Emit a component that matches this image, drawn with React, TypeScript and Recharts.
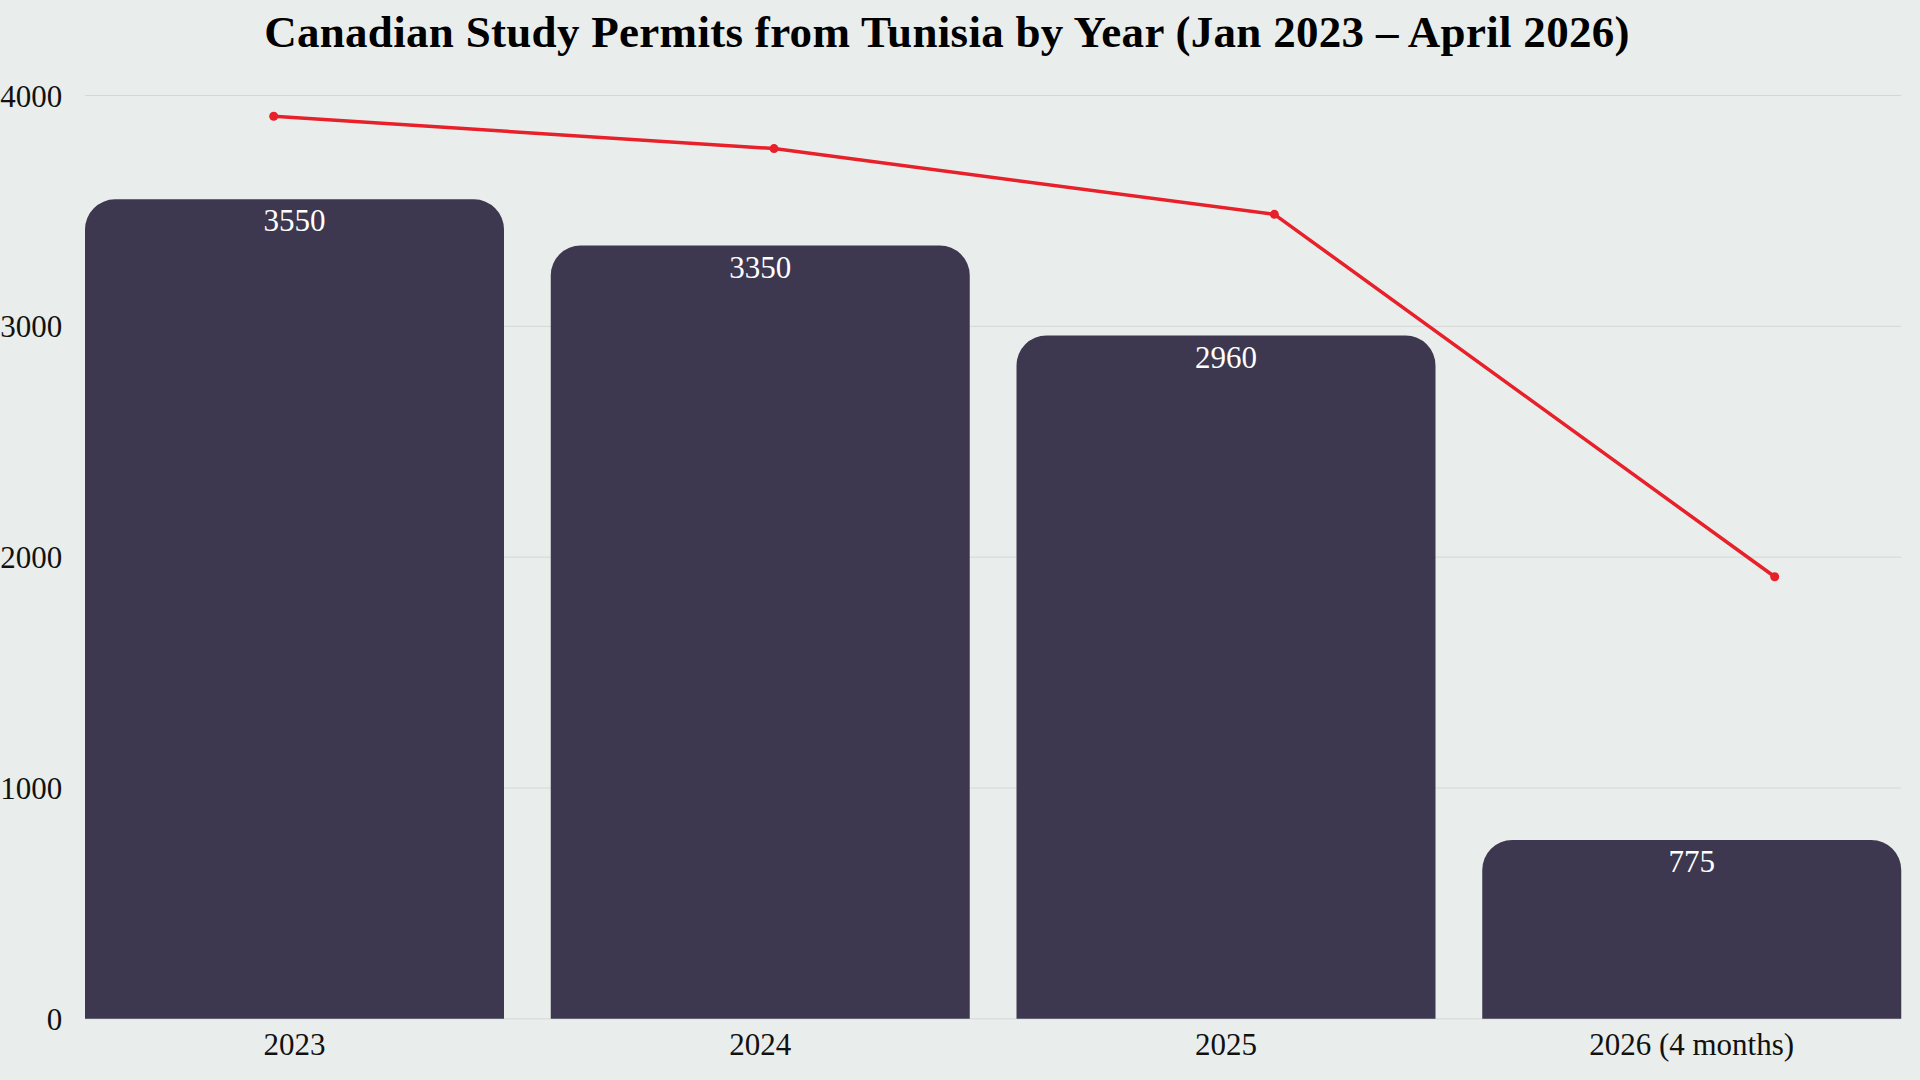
import React from 'react';
import { ComposedChart, Bar, Line, XAxis, YAxis, CartesianGrid, LabelList } from 'recharts';

const years = ['2023', '2024', '2025', '2026 (4 months)'];
const permits = [3550, 3350, 2960, 775];
const trend = [3910, 3770, 3485, 1915];
const yTicks = [0, 1000, 2000, 3000, 4000];
const title = 'Canadian Study Permits from Tunisia by Year (Jan 2023 \u2013 April 2026)';

const data = years.map((year, i) => ({ year, permits: permits[i], trend: trend[i] }));

const FONT = '"Liberation Serif", "DejaVu Serif", serif';
const BG = '#e9eeec';

if (typeof document !== 'undefined') {
  document.body.style.margin = '0';
  document.body.style.background = BG;
  document.documentElement.style.background = BG;
}

export default function App() {
  return (
    <div style={{ position: 'relative', width: 1920, height: 1080, background: BG, overflow: 'hidden' }}>
      <ComposedChart
        width={1920}
        height={1080}
        data={data}
        margin={{ top: 95.5, right: 19, bottom: 0, left: 0 }}
        barCategoryGap={23.5}
      >
        <CartesianGrid xAxisId="bar" vertical={false} stroke="#d3d8d6" strokeWidth={1} />
        <XAxis
          xAxisId="bar"
          dataKey="year"
          height={61.2}
          padding={{ left: -23.5, right: -23.5 }}
          tickLine={false}
          axisLine={false}
          tickSize={6}
          tickMargin={8.5}
          tick={{ fill: '#111', fontSize: 31, fontFamily: FONT }}
        />
        <XAxis xAxisId="line" dataKey="year" scale="point" padding={{ left: 188.7, right: 126.3 }} hide />
        <YAxis
          width={85}
          domain={[0, 4000]}
          ticks={yTicks}
          tickLine={false}
          axisLine={false}
          tickSize={6}
          tickMargin={16.7}
          tick={{ fill: '#111', fontSize: 31, fontFamily: FONT }}
        />
        <Bar xAxisId="bar" dataKey="permits" fill="#3d3850" radius={[30, 30, 0, 0]} isAnimationActive={false}>
          <LabelList dataKey="permits" position="insideTop" offset={10} fill="#ffffff" fontSize={31} fontFamily={FONT} />
        </Bar>
        <Line
          xAxisId="line"
          dataKey="trend"
          type="linear"
          stroke="#e8202a"
          strokeWidth={3.5}
          dot={{ r: 4.5, fill: '#e8202a', stroke: 'none' }}
          isAnimationActive={false}
        />
      </ComposedChart>
      <svg width={1920} height={80} style={{ position: 'absolute', left: 0, top: 0, pointerEvents: 'none' }}>
        <text x={947} y={46.7} textAnchor="middle" fontFamily={FONT} fontWeight="bold" fontSize={45} letterSpacing={0.3} fill="#000">
          {title}
        </text>
      </svg>
    </div>
  );
}
